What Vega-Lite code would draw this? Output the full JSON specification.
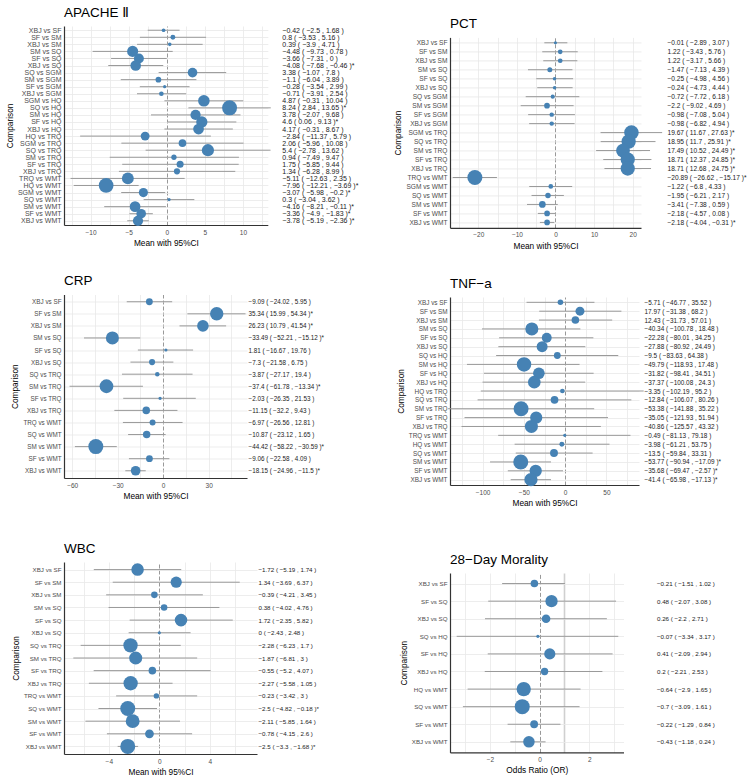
{
  "$schema": "https://vega.github.io/schema/vega-lite/v6.json",
  "padding": {"left": 5, "top": 5, "right": 0, "bottom": 0},
  "spacing": 35,
  "config": {
    "font": "Liberation Sans, Arial, DejaVu Sans, sans-serif",
    "view": {"stroke": null},
    "axis": {
      "grid": true, "gridColor": "#e8e8e8", "gridWidth": 0.8, "ticks": false,
      "domainColor": "#333333", "domainWidth": 1.2,
      "labelColor": "#4d4d4d", "labelFontSize": 6.5, "labelOverlap": false, "labelFlush": false,
      "titleColor": "#000000", "titleFontWeight": "normal", "titleFontSize": 8.3
    },
    "axisX": {
      "labelOverlap": false, "labelPadding": 4, "titlePadding": 3, "tickCount": 100,
      "gridDash": {"condition": {"test": "datum.value === 0", "value": [4, 2]}, "value": []},
      "gridColor": {"condition": {"test": "datum.value === 0", "value": "#999999"}, "value": "#e8e8e8"},
      "gridWidth": {"condition": {"test": "datum.value === 0", "value": 1}, "value": 0.8}
    },
    "title": {"anchor": "start", "frame": "group", "fontSize": 13.5, "fontWeight": "normal", "color": "#000000", "offset": 7}
  },
  "resolve": {"scale": {"size": "independent"}},
  "hconcat": [
    {
      "spacing": 26.5,
      "resolve": {"scale": {"size": "independent"}},
      "vconcat": [
        {
          "title": {"text": "APACHE Ⅱ"},
          "width": 203.8, "height": 199,
          "data": {"values": [
            {"comparison": "XBJ vs SF", "mean": -0.42, "lower": -2.5, "upper": 1.68, "label": "−0.42 ( −2.5 , 1.68 )"},
            {"comparison": "SF vs SM", "mean": 0.8, "lower": -3.53, "upper": 5.16, "label": "0.8 ( −3.53 , 5.16 )"},
            {"comparison": "XBJ vs SM", "mean": 0.39, "lower": -3.9, "upper": 4.71, "label": "0.39 ( −3.9 , 4.71 )"},
            {"comparison": "SM vs SQ", "mean": -4.48, "lower": -9.73, "upper": 0.78, "label": "−4.48 ( −9.73 , 0.78 )"},
            {"comparison": "SF vs SQ", "mean": -3.66, "lower": -7.31, "upper": 0, "label": "−3.66 ( −7.31 , 0 )"},
            {"comparison": "XBJ vs SQ", "mean": -4.08, "lower": -7.68, "upper": -0.46, "label": "−4.08 ( −7.68 , −0.46 )*"},
            {"comparison": "SQ vs SGM", "mean": 3.38, "lower": -1.07, "upper": 7.8, "label": "3.38 ( −1.07 , 7.8 )"},
            {"comparison": "SM vs SGM", "mean": -1.1, "lower": -6.04, "upper": 3.89, "label": "−1.1 ( −6.04 , 3.89 )"},
            {"comparison": "SF vs SGM", "mean": -0.28, "lower": -3.54, "upper": 2.99, "label": "−0.28 ( −3.54 , 2.99 )"},
            {"comparison": "XBJ vs SGM", "mean": -0.71, "lower": -3.91, "upper": 2.54, "label": "−0.71 ( −3.91 , 2.54 )"},
            {"comparison": "SGM vs HQ", "mean": 4.87, "lower": -0.31, "upper": 10.04, "label": "4.87 ( −0.31 , 10.04 )"},
            {"comparison": "SQ vs HQ", "mean": 8.24, "lower": 2.84, "upper": 13.65, "label": "8.24 ( 2.84 , 13.65 )*"},
            {"comparison": "SM vs HQ", "mean": 3.78, "lower": -2.07, "upper": 9.68, "label": "3.78 ( −2.07 , 9.68 )"},
            {"comparison": "SF vs HQ", "mean": 4.6, "lower": 0.06, "upper": 9.13, "label": "4.6 ( 0.06 , 9.13 )*"},
            {"comparison": "XBJ vs HQ", "mean": 4.17, "lower": -0.31, "upper": 8.67, "label": "4.17 ( −0.31 , 8.67 )"},
            {"comparison": "HQ vs TRQ", "mean": -2.84, "lower": -11.37, "upper": 5.79, "label": "−2.84 ( −11.37 , 5.79 )"},
            {"comparison": "SGM vs TRQ", "mean": 2.06, "lower": -5.96, "upper": 10.08, "label": "2.06 ( −5.96 , 10.08 )"},
            {"comparison": "SQ vs TRQ", "mean": 5.4, "lower": -2.78, "upper": 13.62, "label": "5.4 ( −2.78 , 13.62 )"},
            {"comparison": "SM vs TRQ", "mean": 0.94, "lower": -7.49, "upper": 9.47, "label": "0.94 ( −7.49 , 9.47 )"},
            {"comparison": "SF vs TRQ", "mean": 1.75, "lower": -5.85, "upper": 9.44, "label": "1.75 ( −5.85 , 9.44 )"},
            {"comparison": "XBJ vs TRQ", "mean": 1.34, "lower": -6.28, "upper": 8.99, "label": "1.34 ( −6.28 , 8.99 )"},
            {"comparison": "TRQ vs WMT", "mean": -5.11, "lower": -12.63, "upper": 2.35, "label": "−5.11 ( −12.63 , 2.35 )"},
            {"comparison": "HQ vs WMT", "mean": -7.96, "lower": -12.21, "upper": -3.69, "label": "−7.96 ( −12.21 , −3.69 )*"},
            {"comparison": "SGM vs WMT", "mean": -3.07, "lower": -5.98, "upper": -0.2, "label": "−3.07 ( −5.98 , −0.2 )*"},
            {"comparison": "SQ vs WMT", "mean": 0.3, "lower": -3.04, "upper": 3.62, "label": "0.3 ( −3.04 , 3.62 )"},
            {"comparison": "SM vs WMT", "mean": -4.16, "lower": -8.21, "upper": -0.11, "label": "−4.16 ( −8.21 , −0.11 )*"},
            {"comparison": "SF vs WMT", "mean": -3.36, "lower": -4.9, "upper": -1.83, "label": "−3.36 ( −4.9 , −1.83 )*"},
            {"comparison": "XBJ vs WMT", "mean": -3.78, "lower": -5.19, "upper": -2.36, "label": "−3.78 ( −5.19 , −2.36 )*"}
          ]},
          "layer": [
            {
              "mark": {"type": "rule", "color": "#999999", "strokeWidth": 1},
              "encoding": {
                "y": {"field": "comparison", "type": "nominal", "sort": null, "scale": {"type": "point", "padding": 0.6},
                      "axis": {"title": "Comparison", "labelFontSize": 7, "labelPadding": 3, "titlePadding": 3}},
                "x": {"field": "lower", "type": "quantitative", "scale": {"domain": [-13.49, 13.26], "nice": false, "zero": false},
                      "axis": {"title": "Mean with 95%CI", "tickCount": 100, "format": "d", "values": [-12.5, -10, -7.5, -5, -2.5, 0, 2.5, 5, 7.5, 10, 12.5],
                               "labelExpr": "datum.value % 5 === 0 ? datum.label : ''"}},
                "x2": {"field": "upper"}
              }
            },
            {
              "mark": {"type": "circle", "color": "#4682b4", "opacity": 1},
              "encoding": {
                "y": {"field": "label", "type": "nominal", "sort": null, "scale": {"type": "point", "padding": 0.6},
                      "axis": {"orient": "right", "title": null, "domain": false, "grid": false, "labelAlign": "left",
                               "labelColor": "#1a1a1a", "labelFontSize": 7, "labelPadding": 14}},
                "x": {"field": "mean", "type": "quantitative"},
                "size": {"field": "mean", "type": "quantitative", "legend": null,
                         "scale": {"domain": [-8.24, -0.28, 0.28, 8.24], "range": [225, 10, 10, 225]}}
              }
            }
          ],
          "resolve": {"scale": {"y": "independent"}, "axis": {"y": "independent"}}
        },
        {
          "title": {"text": "CRP"},
          "width": 183, "height": 183.5,
          "data": {"values": [
            {"comparison": "XBJ vs SF", "mean": -9.09, "lower": -24.02, "upper": 5.95, "label": "−9.09 ( −24.02 , 5.95 )"},
            {"comparison": "SF vs SM", "mean": 35.34, "lower": 15.99, "upper": 54.34, "label": "35.34 ( 15.99 , 54.34 )*"},
            {"comparison": "XBJ vs SM", "mean": 26.23, "lower": 10.79, "upper": 41.54, "label": "26.23 ( 10.79 , 41.54 )*"},
            {"comparison": "SM vs SQ", "mean": -33.49, "lower": -52.21, "upper": -15.12, "label": "−33.49 ( −52.21 , −15.12 )*"},
            {"comparison": "SF vs SQ", "mean": 1.81, "lower": -16.67, "upper": 19.76, "label": "1.81 ( −16.67 , 19.76 )"},
            {"comparison": "XBJ vs SQ", "mean": -7.3, "lower": -21.58, "upper": 6.75, "label": "−7.3 ( −21.58 , 6.75 )"},
            {"comparison": "SQ vs TRQ", "mean": -3.87, "lower": -27.17, "upper": 19.4, "label": "−3.87 ( −27.17 , 19.4 )"},
            {"comparison": "SM vs TRQ", "mean": -37.4, "lower": -61.78, "upper": -13.34, "label": "−37.4 ( −61.78 , −13.34 )*"},
            {"comparison": "SF vs TRQ", "mean": -2.03, "lower": -26.35, "upper": 21.53, "label": "−2.03 ( −26.35 , 21.53 )"},
            {"comparison": "XBJ vs TRQ", "mean": -11.15, "lower": -32.2, "upper": 9.43, "label": "−11.15 ( −32.2 , 9.43 )"},
            {"comparison": "TRQ vs WMT", "mean": -6.97, "lower": -26.56, "upper": 12.81, "label": "−6.97 ( −26.56 , 12.81 )"},
            {"comparison": "SQ vs WMT", "mean": -10.87, "lower": -23.12, "upper": 1.65, "label": "−10.87 ( −23.12 , 1.65 )"},
            {"comparison": "SM vs WMT", "mean": -44.42, "lower": -58.22, "upper": -30.59, "label": "−44.42 ( −58.22 , −30.59 )*"},
            {"comparison": "SF vs WMT", "mean": -9.06, "lower": -22.58, "upper": 4.09, "label": "−9.06 ( −22.58 , 4.09 )"},
            {"comparison": "XBJ vs WMT", "mean": -18.15, "lower": -24.96, "upper": -11.5, "label": "−18.15 ( −24.96 , −11.5 )*"}
          ]},
          "layer": [
            {
              "mark": {"type": "rule", "color": "#999999", "strokeWidth": 1},
              "encoding": {
                "y": {"field": "comparison", "type": "nominal", "sort": null, "scale": {"type": "point", "padding": 0.6},
                      "axis": {"title": "Comparison", "labelFontSize": 6.3, "labelPadding": 3, "titlePadding": 3}},
                "x": {"field": "lower", "type": "quantitative", "scale": {"domain": [-65.42, 55.32], "nice": false, "zero": false},
                      "axis": {"title": "Mean with 95%CI", "tickCount": 100, "format": "d", "values": [-60, -45, -30, -15, 0, 15, 30, 45],
                               "labelExpr": "datum.value % 30 === 0 ? datum.label : ''"}},
                "x2": {"field": "upper"}
              }
            },
            {
              "mark": {"type": "circle", "color": "#4682b4", "opacity": 1},
              "encoding": {
                "y": {"field": "label", "type": "nominal", "sort": null, "scale": {"type": "point", "padding": 0.6},
                      "axis": {"orient": "right", "title": null, "domain": false, "grid": false, "labelAlign": "left",
                               "labelColor": "#1a1a1a", "labelFontSize": 6.3, "labelPadding": 1}},
                "x": {"field": "mean", "type": "quantitative"},
                "size": {"field": "mean", "type": "quantitative", "legend": null,
                         "scale": {"domain": [-44.42, -1.81, 1.81, 44.42], "range": [225, 10, 10, 225]}}
              }
            }
          ],
          "resolve": {"scale": {"y": "independent"}, "axis": {"y": "independent"}}
        },
        {
          "title": {"text": ["", "WBC"], "lineHeight": 14.5},
          "width": 193, "height": 192,
          "data": {"values": [
            {"comparison": "XBJ vs SF", "mean": -1.72, "lower": -5.19, "upper": 1.74, "label": "−1.72 ( −5.19 , 1.74 )"},
            {"comparison": "SF vs SM", "mean": 1.34, "lower": -3.69, "upper": 6.37, "label": "1.34 ( −3.69 , 6.37 )"},
            {"comparison": "XBJ vs SM", "mean": -0.39, "lower": -4.21, "upper": 3.45, "label": "−0.39 ( −4.21 , 3.45 )"},
            {"comparison": "SM vs SQ", "mean": 0.38, "lower": -4.02, "upper": 4.76, "label": "0.38 ( −4.02 , 4.76 )"},
            {"comparison": "SF vs SQ", "mean": 1.72, "lower": -2.35, "upper": 5.82, "label": "1.72 ( −2.35 , 5.82 )"},
            {"comparison": "XBJ vs SQ", "mean": 0, "lower": -2.43, "upper": 2.48, "label": "0 ( −2.43 , 2.48 )"},
            {"comparison": "SQ vs TRQ", "mean": -2.28, "lower": -6.23, "upper": 1.7, "label": "−2.28 ( −6.23 , 1.7 )"},
            {"comparison": "SM vs TRQ", "mean": -1.87, "lower": -6.81, "upper": 3, "label": "−1.87 ( −6.81 , 3 )"},
            {"comparison": "SF vs TRQ", "mean": -0.55, "lower": -5.2, "upper": 4.07, "label": "−0.55 ( −5.2 , 4.07 )"},
            {"comparison": "XBJ vs TRQ", "mean": -2.27, "lower": -5.58, "upper": 1.05, "label": "−2.27 ( −5.58 , 1.05 )"},
            {"comparison": "TRQ vs WMT", "mean": -0.23, "lower": -3.42, "upper": 3, "label": "−0.23 ( −3.42 , 3 )"},
            {"comparison": "SQ vs WMT", "mean": -2.5, "lower": -4.82, "upper": -0.18, "label": "−2.5 ( −4.82 , −0.18 )*"},
            {"comparison": "SM vs WMT", "mean": -2.11, "lower": -5.85, "upper": 1.64, "label": "−2.11 ( −5.85 , 1.64 )"},
            {"comparison": "SF vs WMT", "mean": -0.78, "lower": -4.15, "upper": 2.6, "label": "−0.78 ( −4.15 , 2.6 )"},
            {"comparison": "XBJ vs WMT", "mean": -2.5, "lower": -3.3, "upper": -1.68, "label": "−2.5 ( −3.3 , −1.68 )*"}
          ]},
          "layer": [
            {
              "mark": {"type": "rule", "color": "#999999", "strokeWidth": 1},
              "encoding": {
                "y": {"field": "comparison", "type": "nominal", "sort": null, "scale": {"type": "point", "padding": 0.6},
                      "axis": {"title": "Comparison", "labelFontSize": 6.2, "labelPadding": 3, "titlePadding": 3}},
                "x": {"field": "lower", "type": "quantitative", "scale": {"domain": [-7.55, 7.74], "nice": false, "zero": false},
                      "axis": {"title": "Mean with 95%CI", "tickCount": 100, "format": "d", "values": [-6, -4, -2, 0, 2, 4, 6],
                               "labelExpr": "datum.value % 4 === 0 ? datum.label : ''"}},
                "x2": {"field": "upper"}
              }
            },
            {
              "mark": {"type": "circle", "color": "#4682b4", "opacity": 1},
              "encoding": {
                "y": {"field": "label", "type": "nominal", "sort": null, "scale": {"type": "point", "padding": 0.6},
                      "axis": {"orient": "right", "title": null, "domain": false, "grid": false, "labelAlign": "left",
                               "labelColor": "#1a1a1a", "labelFontSize": 6.2, "labelPadding": 1}},
                "x": {"field": "mean", "type": "quantitative"},
                "size": {"field": "mean", "type": "quantitative", "legend": null,
                         "scale": {"domain": [-2.5, 0, 2.5], "range": [225, 10, 225]}}
              }
            }
          ],
          "resolve": {"scale": {"y": "independent"}, "axis": {"y": "independent"}}
        }
      ]
    },
    {
      "spacing": 26,
      "resolve": {"scale": {"size": "independent"}},
      "vconcat": [
        {
          "spacing": -10.6,
          "resolve": {"scale": {"size": "independent"}},
          "vconcat": [
            {"width": 1, "height": 1, "data": {"values": []}, "mark": "point"},
            {
              "title": {"text": "PCT"},
              "width": 191, "height": 190.4,
              "data": {"values": [
                {"comparison": "XBJ vs SF", "mean": -0.01, "lower": -2.89, "upper": 3.07, "label": "−0.01 ( −2.89 , 3.07 )"},
                {"comparison": "SF vs SM", "mean": 1.22, "lower": -3.43, "upper": 5.76, "label": "1.22 ( −3.43 , 5.76 )"},
                {"comparison": "XBJ vs SM", "mean": 1.22, "lower": -3.17, "upper": 5.66, "label": "1.22 ( −3.17 , 5.66 )"},
                {"comparison": "SM vs SQ", "mean": -1.47, "lower": -7.13, "upper": 4.39, "label": "−1.47 ( −7.13 , 4.39 )"},
                {"comparison": "SF vs SQ", "mean": -0.25, "lower": -4.98, "upper": 4.56, "label": "−0.25 ( −4.98 , 4.56 )"},
                {"comparison": "XBJ vs SQ", "mean": -0.24, "lower": -4.73, "upper": 4.44, "label": "−0.24 ( −4.73 , 4.44 )"},
                {"comparison": "SQ vs SGM", "mean": -0.72, "lower": -7.72, "upper": 6.18, "label": "−0.72 ( −7.72 , 6.18 )"},
                {"comparison": "SM vs SGM", "mean": -2.2, "lower": -9.02, "upper": 4.69, "label": "−2.2 ( −9.02 , 4.69 )"},
                {"comparison": "SF vs SGM", "mean": -0.98, "lower": -7.08, "upper": 5.04, "label": "−0.98 ( −7.08 , 5.04 )"},
                {"comparison": "XBJ vs SGM", "mean": -0.98, "lower": -6.82, "upper": 4.94, "label": "−0.98 ( −6.82 , 4.94 )"},
                {"comparison": "SGM vs TRQ", "mean": 19.67, "lower": 11.67, "upper": 27.63, "label": "19.67 ( 11.67 , 27.63 )*"},
                {"comparison": "SQ vs TRQ", "mean": 18.95, "lower": 11.7, "upper": 25.91, "label": "18.95 ( 11.7 , 25.91 )*"},
                {"comparison": "SM vs TRQ", "mean": 17.49, "lower": 10.52, "upper": 24.49, "label": "17.49 ( 10.52 , 24.49 )*"},
                {"comparison": "SF vs TRQ", "mean": 18.71, "lower": 12.37, "upper": 24.85, "label": "18.71 ( 12.37 , 24.85 )*"},
                {"comparison": "XBJ vs TRQ", "mean": 18.71, "lower": 12.68, "upper": 24.75, "label": "18.71 ( 12.68 , 24.75 )*"},
                {"comparison": "TRQ vs WMT", "mean": -20.89, "lower": -26.62, "upper": -15.17, "label": "−20.89 ( −26.62 , −15.17 )*"},
                {"comparison": "SGM vs WMT", "mean": -1.22, "lower": -6.8, "upper": 4.33, "label": "−1.22 ( −6.8 , 4.33 )"},
                {"comparison": "SQ vs WMT", "mean": -1.95, "lower": -6.21, "upper": 2.17, "label": "−1.95 ( −6.21 , 2.17 )"},
                {"comparison": "SM vs WMT", "mean": -3.41, "lower": -7.38, "upper": 0.59, "label": "−3.41 ( −7.38 , 0.59 )"},
                {"comparison": "SF vs WMT", "mean": -2.18, "lower": -4.57, "upper": 0.08, "label": "−2.18 ( −4.57 , 0.08 )"},
                {"comparison": "XBJ vs WMT", "mean": -2.18, "lower": -4.04, "upper": -0.31, "label": "−2.18 ( −4.04 , −0.31 )*"}
              ]},
              "layer": [
                {
                  "mark": {"type": "rule", "color": "#999999", "strokeWidth": 1},
                  "encoding": {
                    "y": {"field": "comparison", "type": "nominal", "sort": null, "scale": {"type": "point", "padding": 0.6},
                          "axis": {"title": "Comparison", "labelFontSize": 6.6, "labelPadding": 3, "titlePadding": 3}},
                    "x": {"field": "lower", "type": "quantitative", "scale": {"domain": [-27.33, 22.15], "nice": false, "zero": false},
                          "axis": {"title": "Mean with 95%CI", "tickCount": 100, "format": "d", "values": [-25, -20, -15, -10, -5, 0, 5, 10, 15, 20],
                                   "labelExpr": "datum.value % 10 === 0 ? datum.label : ''"}},
                    "x2": {"field": "upper"}
                  }
                },
                {
                  "mark": {"type": "circle", "color": "#4682b4", "opacity": 1},
                  "encoding": {
                    "y": {"field": "label", "type": "nominal", "sort": null, "scale": {"type": "point", "padding": 0.6},
                          "axis": {"orient": "right", "title": null, "domain": false, "grid": false, "labelAlign": "left",
                                   "labelColor": "#1a1a1a", "labelFontSize": 6.6, "labelPadding": 26}},
                    "x": {"field": "mean", "type": "quantitative"},
                    "size": {"field": "mean", "type": "quantitative", "legend": null,
                             "scale": {"domain": [-20.89, -0.01, 0.01, 20.89], "range": [225, 10, 10, 225]}}
                  }
                }
              ],
              "resolve": {"scale": {"y": "independent"}, "axis": {"y": "independent"}}
            }
          ]
        },
        {
          "title": {"text": "TNF−a"},
          "width": 189, "height": 188,
          "data": {"values": [
            {"comparison": "XBJ vs SF", "mean": -5.71, "lower": -46.77, "upper": 35.52, "label": "−5.71 ( −46.77 , 35.52 )"},
            {"comparison": "SF vs SM", "mean": 17.97, "lower": -31.38, "upper": 68.2, "label": "17.97 ( −31.38 , 68.2 )"},
            {"comparison": "XBJ vs SM", "mean": 12.43, "lower": -31.73, "upper": 57.01, "label": "12.43 ( −31.73 , 57.01 )"},
            {"comparison": "SM vs SQ", "mean": -40.34, "lower": -100.78, "upper": 18.48, "label": "−40.34 ( −100.78 , 18.48 )"},
            {"comparison": "SF vs SQ", "mean": -22.28, "lower": -80.01, "upper": 34.25, "label": "−22.28 ( −80.01 , 34.25 )"},
            {"comparison": "XBJ vs SQ", "mean": -27.88, "lower": -80.92, "upper": 24.49, "label": "−27.88 ( −80.92 , 24.49 )"},
            {"comparison": "SQ vs HQ", "mean": -9.5, "lower": -83.63, "upper": 64.38, "label": "−9.5 ( −83.63 , 64.38 )"},
            {"comparison": "SM vs HQ", "mean": -49.79, "lower": -118.93, "upper": 17.48, "label": "−49.79 ( −118.93 , 17.48 )"},
            {"comparison": "SF vs HQ", "mean": -31.82, "lower": -98.41, "upper": 34.51, "label": "−31.82 ( −98.41 , 34.51 )"},
            {"comparison": "XBJ vs HQ", "mean": -37.37, "lower": -100.08, "upper": 24.3, "label": "−37.37 ( −100.08 , 24.3 )"},
            {"comparison": "HQ vs TRQ", "mean": -3.35, "lower": -102.19, "upper": 95.2, "label": "−3.35 ( −102.19 , 95.2 )"},
            {"comparison": "SQ vs TRQ", "mean": -12.84, "lower": -106.07, "upper": 80.26, "label": "−12.84 ( −106.07 , 80.26 )"},
            {"comparison": "SM vs TRQ", "mean": -53.38, "lower": -141.88, "upper": 35.22, "label": "−53.38 ( −141.88 , 35.22 )"},
            {"comparison": "SF vs TRQ", "mean": -35.05, "lower": -121.93, "upper": 51.94, "label": "−35.05 ( −121.93 , 51.94 )"},
            {"comparison": "XBJ vs TRQ", "mean": -40.86, "lower": -125.57, "upper": 43.32, "label": "−40.86 ( −125.57 , 43.32 )"},
            {"comparison": "TRQ vs WMT", "mean": -0.49, "lower": -81.13, "upper": 79.18, "label": "−0.49 ( −81.13 , 79.18 )"},
            {"comparison": "HQ vs WMT", "mean": -3.98, "lower": -61.21, "upper": 53.75, "label": "−3.98 ( −61.21 , 53.75 )"},
            {"comparison": "SQ vs WMT", "mean": -13.5, "lower": -59.84, "upper": 33.31, "label": "−13.5 ( −59.84 , 33.31 )"},
            {"comparison": "SM vs WMT", "mean": -53.77, "lower": -90.94, "upper": -17.09, "label": "−53.77 ( −90.94 , −17.09 )*"},
            {"comparison": "SF vs WMT", "mean": -35.68, "lower": -69.47, "upper": -2.57, "label": "−35.68 ( −69.47 , −2.57 )*"},
            {"comparison": "XBJ vs WMT", "mean": -41.4, "lower": -65.98, "upper": -17.13, "label": "−41.4 ( −65.98 , −17.13 )*"}
          ]},
          "layer": [
            {
              "mark": {"type": "rule", "color": "#999999", "strokeWidth": 1},
              "encoding": {
                "y": {"field": "comparison", "type": "nominal", "sort": null, "scale": {"type": "point", "padding": 0.6},
                      "axis": {"title": "Comparison", "labelFontSize": 6.4, "labelPadding": 3, "titlePadding": 3}},
                "x": {"field": "lower", "type": "quantitative", "scale": {"domain": [-139.5, 89.5], "nice": false, "zero": false},
                      "axis": {"title": "Mean with 95%CI", "tickCount": 100, "format": "d", "values": [-125, -100, -75, -50, -25, 0, 25, 50, 75],
                               "labelExpr": "datum.value % 50 === 0 ? datum.label : ''"}},
                "x2": {"field": "upper"}
              }
            },
            {
              "mark": {"type": "circle", "color": "#4682b4", "opacity": 1},
              "encoding": {
                "y": {"field": "label", "type": "nominal", "sort": null, "scale": {"type": "point", "padding": 0.6},
                      "axis": {"orient": "right", "title": null, "domain": false, "grid": false, "labelAlign": "left",
                               "labelColor": "#1a1a1a", "labelFontSize": 6.4, "labelPadding": 5}},
                "x": {"field": "mean", "type": "quantitative"},
                "size": {"field": "mean", "type": "quantitative", "legend": null,
                         "scale": {"domain": [-53.77, -0.49, 0.49, 53.77], "range": [225, 10, 10, 225]}}
              }
            }
          ],
          "resolve": {"scale": {"y": "independent"}, "axis": {"y": "independent"}}
        },
        {
          "title": {"text": ["", "28−Day Morality"], "lineHeight": 19.5},
          "width": 173.5, "height": 179.4,
          "data": {"values": [
            {"comparison": "XBJ vs SF", "mean": -0.21, "lower": -1.51, "upper": 1.02, "label": "−0.21 ( −1.51 , 1.02 )"},
            {"comparison": "SF vs SQ", "mean": 0.48, "lower": -2.07, "upper": 3.08, "label": "0.48 ( −2.07 , 3.08 )"},
            {"comparison": "XBJ vs SQ", "mean": 0.26, "lower": -2.2, "upper": 2.71, "label": "0.26 ( −2.2 , 2.71 )"},
            {"comparison": "SQ vs HQ", "mean": -0.07, "lower": -3.34, "upper": 3.17, "label": "−0.07 ( −3.34 , 3.17 )"},
            {"comparison": "SF vs HQ", "mean": 0.41, "lower": -2.09, "upper": 2.94, "label": "0.41 ( −2.09 , 2.94 )"},
            {"comparison": "XBJ vs HQ", "mean": 0.2, "lower": -2.21, "upper": 2.53, "label": "0.2 ( −2.21 , 2.53 )"},
            {"comparison": "HQ vs WMT", "mean": -0.64, "lower": -2.9, "upper": 1.65, "label": "−0.64 ( −2.9 , 1.65 )"},
            {"comparison": "SQ vs WMT", "mean": -0.7, "lower": -3.09, "upper": 1.61, "label": "−0.7 ( −3.09 , 1.61 )"},
            {"comparison": "SF vs WMT", "mean": -0.22, "lower": -1.29, "upper": 0.84, "label": "−0.22 ( −1.29 , 0.84 )"},
            {"comparison": "XBJ vs WMT", "mean": -0.43, "lower": -1.18, "upper": 0.24, "label": "−0.43 ( −1.18 , 0.24 )"}
          ]},
          "layer": [
            {
              "mark": {"type": "rule", "color": "#999999", "strokeWidth": 1},
              "encoding": {
                "y": {"field": "comparison", "type": "nominal", "sort": null, "scale": {"type": "point", "padding": 0.6},
                      "axis": {"title": "Comparison", "labelFontSize": 6.2, "labelPadding": 3, "titlePadding": 3}},
                "x": {"field": "lower", "type": "quantitative", "scale": {"domain": [-3.61, 3.38], "nice": false, "zero": false},
                      "axis": {"title": "Odds Ratio (OR)", "tickCount": 100, "format": "d", "values": [-3, -2, -1, 0, 1, 2, 3],
                               "labelExpr": "datum.value % 2 === 0 ? datum.label : ''",
                               "gridColor": {"condition": [{"test": "datum.value === 0", "value": "#999999"}, {"test": "datum.value === 1", "value": "#d0d0d0"}], "value": "#e8e8e8"},
                               "gridWidth": {"condition": [{"test": "datum.value === 0", "value": 1}, {"test": "datum.value === 1", "value": 1.6}], "value": 0.8}}},
                "x2": {"field": "upper"}
              }
            },
            {
              "mark": {"type": "circle", "color": "#4682b4", "opacity": 1},
              "encoding": {
                "y": {"field": "label", "type": "nominal", "sort": null, "scale": {"type": "point", "padding": 0.6},
                      "axis": {"orient": "right", "title": null, "domain": false, "grid": false, "labelAlign": "left",
                               "labelColor": "#1a1a1a", "labelFontSize": 6.2, "labelPadding": 33}},
                "x": {"field": "mean", "type": "quantitative"},
                "size": {"field": "mean", "type": "quantitative", "legend": null,
                         "scale": {"domain": [-0.7, -0.07, 0.07, 0.7], "range": [225, 10, 10, 225]}}
              }
            }
          ],
          "resolve": {"scale": {"y": "independent"}, "axis": {"y": "independent"}}
        }
      ]
    }
  ]
}
